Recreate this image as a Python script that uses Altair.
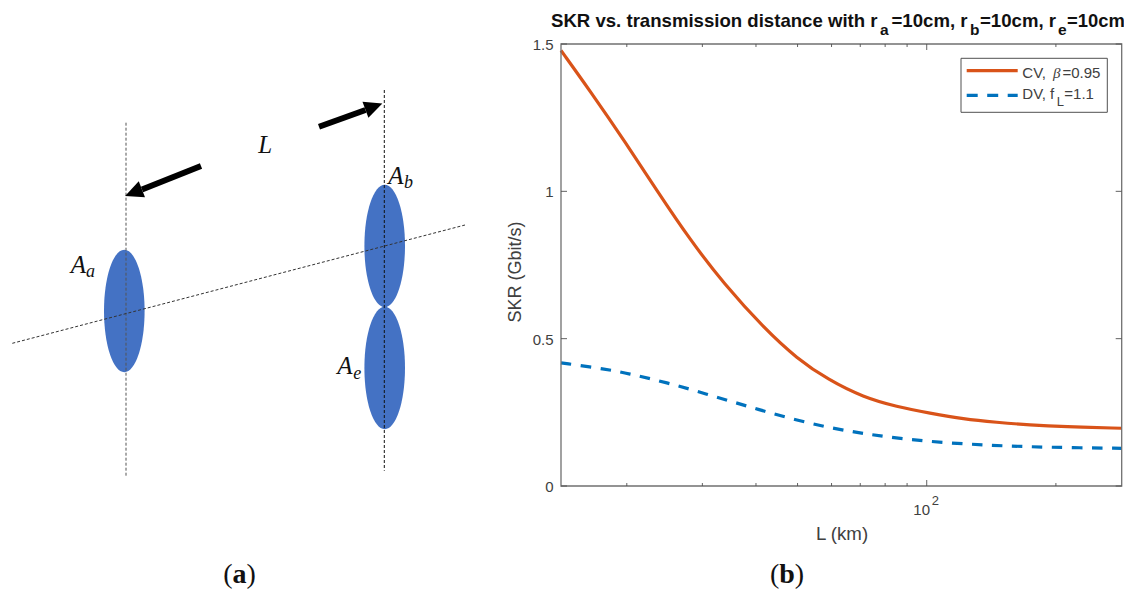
import altair as alt
import pandas as pd

# ---- plot (b) data ----
cv_L = [14.05, 16.4, 19.9, 23.5, 28.1, 33.6, 42.0, 49.8, 59.0, 71.2, 85.1, 101.8, 121.7, 145.6, 174.1, 208.2, 284.7]
cv_skr = [1.478, 1.342, 1.164, 1.003, 0.835, 0.688, 0.532, 0.433, 0.36, 0.301, 0.269, 0.247, 0.227, 0.216, 0.207, 0.201, 0.196]
dv_L = [14.05, 17.95, 20.0, 24.8, 30.7, 38.1, 47.2, 59.0, 72.5, 89.8, 112.3, 140.5, 174.1, 217.8, 284.7]
dv_skr = [0.418, 0.396, 0.383, 0.351, 0.312, 0.271, 0.232, 0.198, 0.176, 0.158, 0.146, 0.138, 0.133, 0.130, 0.128]
x_minor = [20, 30, 40, 50, 60, 70, 80, 90, 200]
x_major = [100]
y_ticks = [0, 0.5, 1, 1.5]
y_tick_labels = ["0", "0.5", "1", "1.5"]

# ---- diagram (a) data, in the diagram's own units ----
guides = [
    {"id": "left", "x": [126, 126], "y": [122.7, 477.3], "c": "#555555"},
    {"id": "right", "x": [384.3, 384.3], "y": [90, 470.7], "c": "#111111"},
    {"id": "axis", "x": [12.3, 465], "y": [343.3, 225], "c": "#333333"},
]
ellipse_x = [124.3, 384.7, 384.7]
ellipse_y = [311, 246, 368]
shafts = [
    {"id": "r", "x": [319, 365.5], "y": [126.7, 110]},
    {"id": "l", "x": [201, 142], "y": [166, 189.5]},
]
head_x = [373.9, 133.5]
head_y = [106.6, 192.6]
head_angle = [69.7, 248.6]
dia_labels = [
    ("A", 70.7, 272.7, 25, "italic", "normal"),
    ("a", 86, 277, 18, "italic", "normal"),
    ("A", 388.3, 184, 25, "italic", "normal"),
    ("b", 404, 188, 18, "italic", "normal"),
    ("A", 337.3, 374.3, 25, "italic", "normal"),
    ("e", 353.3, 379, 18, "italic", "normal"),
    ("L", 258.3, 152.7, 25, "italic", "normal"),
    ("(", 223.3, 583, 28, "normal", "normal"),
    ("a", 232.6, 583, 28, "normal", "bold"),
    (")", 246.6, 583, 28, "normal", "normal"),
]

# ---- texts of plot (b), page positions ----
title_parts = [
    ("SKR vs. transmission distance with r", 551, 26.7, 18.6),
    ("a", 880, 35, 15.5),
    ("=10cm, r", 891.5, 26.7, 18.6),
    ("b", 970, 35, 15.5),
    ("=10cm, r", 980, 26.7, 18.6),
    ("e", 1058, 35, 15.5),
    ("=10cm", 1067, 26.7, 18.4),
]
legend_parts = [
    ("CV, ", 1022.3, 78, "Liberation Sans", "normal", 15),
    ("β", 1053, 78, "Liberation Serif", "italic", 15),
    ("=0.95", 1062.5, 78, "Liberation Sans", "normal", 15),
    ("DV, f", 1022.3, 98.5, "Liberation Sans", "normal", 15),
    ("L", 1056.7, 105.5, "Liberation Sans", "normal", 13),
    ("=1.1", 1064.3, 98.5, "Liberation Sans", "normal", 15),
]
TEXT = "#404040"

W, H = 1116, 582
FL, FT, FR, FB = 561, 44, 1121.7, 486  # plot frame on the page


def P(v):
    return alt.value(v - 8)


def long_df(items):
    rows = []
    for g in items:
        for i in range(2):
            rows.append({"id": g["id"], "x": g["x"][i], "y": g["y"][i], "o": i, "c": g.get("c", "black")})
    return pd.DataFrame(rows)


dx = alt.X("x:Q", scale=alt.Scale(domain=[8, 8 + W], range=[0, W]), axis=None)
dy = alt.Y("y:Q", scale=alt.Scale(domain=[8, 8 + H], range=[0, H]), axis=None)

ell = alt.Chart(pd.DataFrame({"x": ellipse_x, "y": ellipse_y})).mark_point(
    shape="M0,-1 A0.332,1 0 1,1 0,1 A0.332,1 0 1,1 0,-1 Z",
    filled=True, fill="#4472C4", stroke=None, opacity=1, size=122.3 ** 2,
).encode(x=dx, y=dy)

gl = alt.Chart(long_df(guides)).mark_line(strokeWidth=1, strokeDash=[3, 2]).encode(
    x=dx, y=dy, detail="id:N", order="o:Q", color=alt.Color("c:N", scale=None)
)
sh = alt.Chart(long_df(shafts)).mark_line(strokeWidth=6, color="black").encode(
    x=dx, y=dy, detail="id:N", order="o:Q"
)
hd = alt.Chart(pd.DataFrame({"x": head_x, "y": head_y, "a": head_angle})).mark_point(
    shape="M0,-1 L0.95,1 L-0.95,1 Z", filled=True, fill="black", stroke=None, opacity=1, size=324,
).encode(x=dx, y=dy, angle=alt.Angle("a:Q", scale=None))

dia_texts = []
for t, x, y, fs, st, wt in dia_labels:
    dia_texts.append(
        alt.Chart(pd.DataFrame({"t": [t], "x": [x], "y": [y]})).mark_text(
            align="left", baseline="alphabetic", font="Liberation Serif",
            fontSize=fs, fontStyle=st, fontWeight=wt, color="#111111",
        ).encode(x=dx, y=dy, text="t:N")
    )

# ---- plot (b) ----
xs = alt.Scale(type="log", domain=[14.05, 284.7], nice=False, range=[FL - 8, FR - 8])
ys = alt.Scale(domain=[0, 1.5], nice=False, range=[FB - 8, FT - 8])
X = alt.X("L:Q", scale=xs, axis=None)
Y = alt.Y("v:Q", scale=ys, axis=None)

cv = alt.Chart(pd.DataFrame({"L": cv_L, "v": cv_skr})).mark_line(
    color="#D95319", strokeWidth=3.2, interpolate="basis"
).encode(x=X, y=Y)
dv = alt.Chart(pd.DataFrame({"L": dv_L, "v": dv_skr})).mark_line(
    color="#0072BD", strokeWidth=3.2, strokeDash=[10.5, 9.5], interpolate="basis"
).encode(x=X, y=Y)

frame = alt.Chart(pd.DataFrame({"a": [0]})).mark_rect(
    fill=None, stroke="#707070", strokeWidth=1.3
).encode(x=P(FL), x2=P(FR), y=P(FT), y2=P(FB))


def xtick(vals, y0, y1):
    return alt.Chart(pd.DataFrame({"L": vals})).mark_rule(color="#505050", strokeWidth=0.9).encode(
        x=X, y=P(y0), y2=P(y1)
    )


ticks = [
    xtick(x_minor, FB, FB - 3), xtick(x_minor, FT, FT + 3),
    xtick(x_major, FB, FB - 6), xtick(x_major, FT, FT + 6),
]
ytk = [
    alt.Chart(pd.DataFrame({"v": y_ticks})).mark_rule(color="#505050", strokeWidth=0.9).encode(
        y=Y, x=P(a), x2=P(b)
    )
    for a, b in [(FL, FL + 6), (FR - 6, FR)]
]
ylab = alt.Chart(pd.DataFrame({"v": y_ticks, "t": y_tick_labels})).mark_text(
    align="right", baseline="middle", font="Liberation Sans", fontSize=15, color=TEXT, dy=1
).encode(y=Y, x=P(553.5), text="t:N")


def txt(t, px, py, font="Liberation Sans", size=15, style="normal", weight="normal", color=TEXT, align="left", angle=0):
    return alt.Chart(pd.DataFrame({"t": [t]})).mark_text(
        align=align, baseline="alphabetic", font=font, fontSize=size, fontStyle=style,
        fontWeight=weight, color=color, angle=angle,
    ).encode(x=P(px), y=P(py), text="t:N")


texts = [txt(t, px, py, size=z, weight="bold", color="#111111") for t, px, py, z in title_parts]
texts += [
    txt("10", 913.3, 515),
    txt("2", 931.7, 505, size=13),
    txt("L (km)", 842, 540, size=18.7, align="center"),
    txt("SKR (Gbit/s)", 521, 272, size=18, align="center", angle=270),
    txt("(", 770, 583, font="Liberation Serif", size=28, color="#111111"),
    txt("b", 779.3, 583, font="Liberation Serif", size=28, weight="bold", color="#111111"),
    txt(")", 794.8, 583, font="Liberation Serif", size=28, color="#111111"),
]

one = pd.DataFrame({"a": [0]})
leg_box = alt.Chart(one).mark_rect(fill="white", stroke="#505050", strokeWidth=1).encode(
    x=P(961), x2=P(1107.3), y=P(58.3), y2=P(112.3))
leg_cv = alt.Chart(one).mark_rule(color="#D95319", strokeWidth=3.2).encode(
    x=P(966.7), x2=P(1017.7), y=P(70.7))
leg_dv = alt.Chart(one).mark_rule(color="#0072BD", strokeWidth=3.2, strokeDash=[11, 9.5]).encode(
    x=P(966.7), x2=P(1017.7), y=P(95.3))
leg_txt = [txt(t, px, py, font=f, style=s, size=z) for t, px, py, f, s, z in legend_parts]

chart = (
    alt.layer(ell, gl, sh, hd, *dia_texts, cv, dv, frame, *ticks, *ytk, ylab,
              leg_box, leg_cv, leg_dv, *leg_txt, *texts)
    .resolve_scale(x="independent", y="independent")
    .properties(width=W, height=H, padding=0, background="white",
                autosize=alt.AutoSizeParams(type="none"))
    .configure_view(stroke=None)
)
chart.save("out.html", embed_options={"renderer": "svg", "actions": False})
